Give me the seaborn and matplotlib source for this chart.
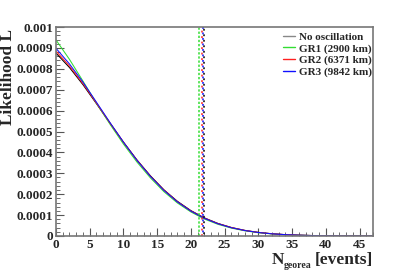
import numpy as np
import pandas as pd
import matplotlib
matplotlib.use("Agg")
import matplotlib.pyplot as plt
import seaborn as sns
from matplotlib.ticker import MultipleLocator, FixedLocator

n_events = [0, 2, 4, 6, 8, 10, 12, 14, 16, 18, 20, 22, 24, 26, 28, 30,
            32, 34, 36, 38, 40, 42, 44, 46, 47]
L_noosc = [0.000875, 0.000806, 0.000724, 0.000633, 0.000540, 0.000449, 0.000364,
           0.000288, 0.000221, 0.000166, 0.0001216, 0.0000866, 0.0000602,
           0.0000408, 0.0000269, 0.0000173, 0.0000109, 0.0000066, 0.0000040,
           0.0000023, 0.0000013, 0.0000007, 0.0000004, 0.0000002, 0.00000015]
L_gr1 = [0.000938, 0.000845, 0.000741, 0.000635, 0.000535, 0.000440, 0.000354,
         0.000278, 0.000212, 0.000158, 0.000115, 0.0000811, 0.0000560,
         0.0000378, 0.0000248, 0.0000158, 0.0000099, 0.0000060, 0.0000036,
         0.0000021, 0.0000012, 0.0000006, 0.0000003, 0.0000002, 0.0000001]
L_gr2 = [0.000885, 0.000813, 0.000729, 0.000636, 0.000541, 0.000449, 0.000363,
         0.000286, 0.000220, 0.000164, 0.000120, 0.0000857, 0.0000595,
         0.0000403, 0.0000265, 0.0000171, 0.0000107, 0.0000065, 0.0000039,
         0.0000023, 0.0000013, 0.0000007, 0.0000004, 0.0000002, 0.0000001]
L_gr3 = [0.000898, 0.000823, 0.000736, 0.000640, 0.000543, 0.000449, 0.000362,
         0.000285, 0.000218, 0.000163, 0.000119, 0.0000845, 0.0000586,
         0.0000396, 0.0000261, 0.0000167, 0.0000105, 0.0000064, 0.0000038,
         0.0000022, 0.0000012, 0.0000007, 0.0000004, 0.0000002, 0.0000001]

series_names = ["No oscillation", "GR1 (2900 km)", "GR2 (6371 km)", "GR3 (9842 km)"]
series_colors = ["#000000", "#33dd33", "#ff2020", "#1010ff"]
limits = [22.0, 21.15, 21.7, 21.85]

x_ticks = [0, 5, 10, 15, 20, 25, 30, 35, 40, 45]
y_ticks = [0, 0.0001, 0.0002, 0.0003, 0.0004, 0.0005, 0.0006, 0.0007, 0.0008, 0.0009, 0.001]
y_ticklabels = ["0", "0.0001", "0.0002", "0.0003", "0.0004", "0.0005",
                "0.0006", "0.0007", "0.0008", "0.0009", "0.001"]

sns.set_style("ticks")
plt.rcParams["font.family"] = ["Liberation Serif", "DejaVu Serif"]
plt.rcParams["font.weight"] = "bold"

frames = []
for name, vals in zip(series_names, [L_noosc, L_gr1, L_gr2, L_gr3]):
    frames.append(pd.DataFrame({"N": n_events, "L": vals, "series": name}))
df = pd.concat(frames, ignore_index=True)

W, H = 415, 275
fig = plt.figure(figsize=(W / 100, H / 100), dpi=100)
ax = fig.add_axes([56 / W, 1 - 236 / H, (373 - 56) / W, (236 - 27) / H])

sns.lineplot(data=df, x="N", y="L", hue="series", hue_order=series_names,
             palette=series_colors, linewidth=0.75, ax=ax, legend=False)

dash_offsets = [2.4, 0.0, 0.0, 1.2]
for lim, col, off in zip(limits, series_colors, dash_offsets):
    ax.axvline(lim, color=col, linestyle=(off, (1.2, 2.4)) if col != "#33dd33"
               else (0, (1.5, 1.2)), linewidth=1.1)

ax.set_xlim(0, 47)
ax.set_ylim(0, 0.001)
ax.xaxis.set_major_locator(FixedLocator(x_ticks))
ax.xaxis.set_minor_locator(MultipleLocator(1))
ax.yaxis.set_major_locator(FixedLocator(y_ticks))
ax.yaxis.set_minor_locator(MultipleLocator(0.00002))
ax.set_yticklabels(y_ticklabels)
ax.tick_params(axis="both", which="both", direction="in", top=False, right=False,
               labelsize=9.5, color="#555555")
ax.tick_params(axis="both", which="major", length=6, width=0.8, pad=2)
ax.tick_params(axis="both", which="minor", length=3, width=0.6)
for lbl in ax.get_xticklabels() + ax.get_yticklabels():
    lbl.set_fontweight("bold")

for sp in ax.spines.values():
    sp.set_visible(True)
    sp.set_color("#777777")
    sp.set_linewidth(1.2)

ax.set_xlabel("")
# y label, right-aligned to the top of the axis (ROOT style)
ax.set_ylabel("Likelihood L", fontsize=12.5, fontweight="bold", rotation=90,
              ha="right", va="center")
ax.yaxis.set_label_coords(-0.152, 0.99)

# x label built from pieces: N, small subscript, [events]
t_ev = ax.text(1.0, -0.135, "[events]", transform=ax.transAxes, ha="right",
               va="baseline", fontsize=12.5, fontweight="bold")
fig.canvas.draw()
r = fig.canvas.get_renderer()
bb = t_ev.get_window_extent(r)
base_y = (1 - 236 / H) - 0.135 * ((236 - 27) / H)
t_sub = fig.text((bb.x0 - 3) / W, base_y - 4 / H, "georea", ha="right",
                 va="baseline", fontsize=7, fontweight="bold")
fig.canvas.draw()
bb2 = t_sub.get_window_extent(r)
fig.text(bb2.x0 / W, base_y, "N", ha="right", va="baseline",
         fontsize=12.5, fontweight="bold")

handles = [plt.Line2D([], [], color=c if i else "#888888", linewidth=1.0)
           for i, c in enumerate(series_colors)]
leg = ax.legend(handles, series_names, loc="upper left",
                bbox_to_anchor=((283 - 56) / 317, (236 - 32) / 209),
                frameon=False, prop={"weight": "bold", "size": 8},
                handlelength=1.1, handletextpad=0.3, labelspacing=0.16,
                borderpad=0.0, borderaxespad=0.0)

fig.savefig("out.png", dpi=100)
